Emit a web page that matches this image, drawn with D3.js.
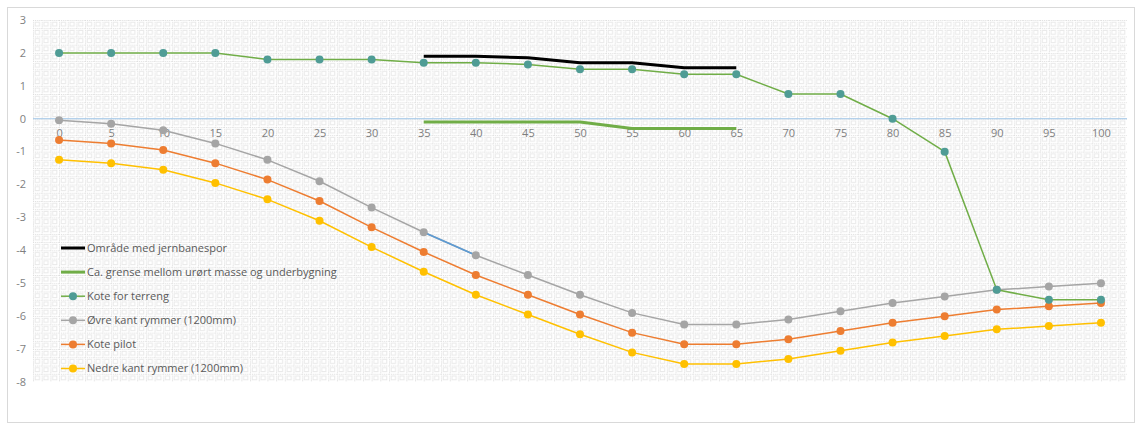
<!DOCTYPE html>
<html>
<head>
<meta charset="utf-8">
<script src="https://cdn.jsdelivr.net/npm/d3@7"></script>
<style>
  html, body { margin: 0; padding: 0; background: #fff; }
  text { font-family: "Open Sans", "Liberation Sans", sans-serif; }
</style>
</head>
<body>
<svg id="chart" width="1138" height="425"></svg>
<script>
'use strict'

// categories (distance) and series values
const distances = [0, 5, 10, 15, 20, 25, 30, 35, 40, 45, 50, 55, 60, 65, 70, 75, 80, 85, 90, 95, 100]
const yTicks = [3, 2, 1, 0, -1, -2, -3, -4, -5, -6, -7, -8]

const jernbaneX = [35, 40, 45, 50, 55, 60, 65]
const jernbane = [1.9, 1.9, 1.85, 1.7, 1.7, 1.55, 1.55]

const grenseX = [35, 40, 45, 50, 55, 60, 65]
const grense = [-0.1, -0.1, -0.1, -0.1, -0.3, -0.3, -0.3]

const terreng = [2, 2, 2, 2, 1.8, 1.8, 1.8, 1.7, 1.7, 1.65, 1.5, 1.5, 1.35, 1.35, 0.75, 0.75, 0, -1, -5.2, -5.5, -5.5]
const ovreKant = [-0.05, -0.15, -0.35, -0.75, -1.25, -1.9, -2.7, -3.45, -4.15, -4.75, -5.35, -5.9, -6.25, -6.25, -6.1, -5.85, -5.6, -5.4, -5.2, -5.1, -5.0]
const kotePilot = [-0.65, -0.75, -0.95, -1.35, -1.85, -2.5, -3.3, -4.05, -4.75, -5.35, -5.95, -6.5, -6.85, -6.85, -6.7, -6.45, -6.2, -6.0, -5.8, -5.7, -5.6]
const nedreKant = [-1.25, -1.35, -1.55, -1.95, -2.45, -3.1, -3.9, -4.65, -5.35, -5.95, -6.55, -7.1, -7.45, -7.45, -7.3, -7.05, -6.8, -6.6, -6.4, -6.3, -6.2]

// short stretch of the upper edge drawn in blue in the original
const blueX = [35, 40]
const blueVals = [-3.45, -4.15]

const legendNames = [
  'Område med jernbanespor',
  'Ca. grense mellom urørt masse og underbygning',
  'Kote for terreng',
  'Øvre kant rymmer (1200mm)',
  'Kote pilot',
  'Nedre kant rymmer (1200mm)'
]

function draw(){
  let svg = d3.select('#chart')
  let left = 33, right = 1127, top = 20, bottom = 382

  let x = d3.scalePoint().domain(distances).range([left, right]).padding(0.5)
  let y = d3.scaleLinear().domain([-8, 3]).range([bottom, top])

  // outer border
  svg.append('rect')
    .attr('x', 7.5).attr('y', 7.5).attr('width', 1127).attr('height', 415)
    .attr('fill', '#fff').attr('stroke', '#d9d9d9')

  // excel "small grid" pattern fill
  let cw = x.step() / 6, ch = (y(2) - y(3)) / 4
  let pat = svg.append('defs').append('pattern')
    .attr('id', 'grid').attr('patternUnits', 'userSpaceOnUse')
    .attr('x', left).attr('y', top)
    .attr('width', cw).attr('height', ch)
  pat.append('rect').attr('width', cw).attr('height', ch).attr('fill', '#fff')
  pat.append('path')
    .attr('d', `M0,0.5H${cw}M0.5,0V${ch}`)
    .attr('stroke', '#dcdcdc').attr('stroke-width', 1).attr('stroke-dasharray', '1,1')
  pat.append('rect')
    .attr('x', 2.2).attr('y', 2.2).attr('width', cw - 4.4).attr('height', ch - 4.4)
    .attr('fill', 'none').attr('stroke', '#e9e9e9').attr('stroke-width', 1)

  svg.append('rect')
    .attr('x', left).attr('y', top).attr('width', right - left).attr('height', bottom - top)
    .attr('fill', 'url(#grid)')

  // y labels
  svg.append('g').selectAll('text').data(yTicks).join('text')
    .attr('x', 26).attr('y', d => y(d)).attr('dy', '0.35em')
    .attr('text-anchor', 'end').attr('font-size', 11).attr('fill', '#7f7f7f')
    .text(d => d)

  // zero line (category axis)
  svg.append('line')
    .attr('x1', left).attr('x2', right).attr('y1', y(0)).attr('y2', y(0))
    .attr('stroke', '#9dc3e6').attr('stroke-width', 1.2)

  let xAxis = svg.append('g')
    .attr('transform', `translate(0,${y(0)})`)
    .call(d3.axisBottom(x).tickSize(0).tickPadding(10))
  xAxis.select('.domain').remove()
  xAxis.selectAll('text').attr('font-size', 11).attr('fill', '#7f7f7f')
    .attr('font-family', '"Open Sans", "Liberation Sans", sans-serif')

  let line = d3.line().x(d => x(d[0])).y(d => y(d[1]))

  let series = [
    {xs: jernbaneX, vals: jernbane, color: '#000000', width: 3, marker: null},
    {xs: grenseX, vals: grense, color: '#70ad47', width: 3, marker: null},
    {xs: distances, vals: terreng, color: '#70ad47', width: 1.5, marker: '#4f9c95'},
    {xs: distances, vals: ovreKant, color: '#a5a5a5', width: 1.5, marker: '#a5a5a5'},
    {xs: distances, vals: kotePilot, color: '#ed7d31', width: 1.5, marker: '#ed7d31'},
    {xs: distances, vals: nedreKant, color: '#ffc000', width: 1.5, marker: '#ffc000'}
  ]

  // draw from bottom series up so the terrain sits on top like the original
  let order = [5, 4, 3, 2, 0, 1]
  order.forEach(i => {
    let s = series[i]
    let pts = s.xs.map((d, j) => [d, s.vals[j]])
    svg.append('path').datum(pts)
      .attr('d', line).attr('fill', 'none')
      .attr('stroke', s.color).attr('stroke-width', s.width)
      .attr('stroke-linejoin', 'round')
    if (i == 3) {
      svg.append('path').datum(blueX.map((d, j) => [d, blueVals[j]]))
        .attr('d', line).attr('fill', 'none')
        .attr('stroke', '#5b9bd5').attr('stroke-width', 1.5)
    }
    if (s.marker) {
      svg.append('g').selectAll('circle').data(pts).join('circle')
        .attr('cx', d => x(d[0])).attr('cy', d => y(d[1])).attr('r', 4)
        .attr('fill', s.marker)
    }
  })

  // legend
  let lg = svg.append('g')
  series.forEach((s, i) => {
    let ly = 248 + i * 24.1
    lg.append('line').attr('x1', 61).attr('x2', 85).attr('y1', ly).attr('y2', ly)
      .attr('stroke', s.color).attr('stroke-width', s.width)
    if (s.marker) {
      lg.append('circle').attr('cx', 73).attr('cy', ly).attr('r', 4).attr('fill', s.marker)
    }
    lg.append('text').attr('x', 87).attr('y', ly).attr('dy', '0.35em')
      .attr('font-size', 11).attr('fill', '#595959')
      .text(legendNames[i])
  })
}

draw()
</script>
</body>
</html>
